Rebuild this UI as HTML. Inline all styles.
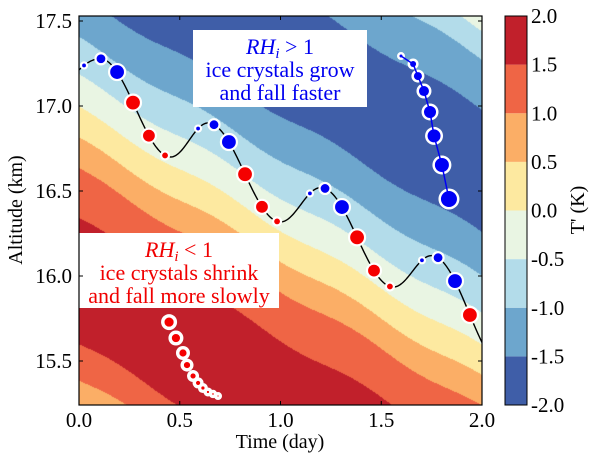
<!DOCTYPE html>
<html><head><meta charset="utf-8">
<style>
html,body{margin:0;padding:0;background:#fff;}
#wrap{position:relative;width:600px;height:454px;overflow:hidden;font-family:"Liberation Serif",serif;}
canvas{position:absolute;left:79px;top:16px;}
svg{position:absolute;left:0;top:0;font-family:"Liberation Serif",serif;}
</style></head>
<body>
<div id="wrap">
<canvas id="field" width="403" height="389"></canvas>
<svg id="svg" width="600" height="454"></svg>
</div>
<script>
// ---- data ----
const levels = [-2.0,-1.5,-1.0,-0.5,0.0,0.5,1.0,1.5,2.0];
const levelColors = ["#3f5ea8","#6da6cd","#b3dcea","#e9f5e3","#fde9a0","#fbae66","#ef6545","#c1202b"];
const phaseKnots = [14.6,15.0,15.39,15.6,16.0,16.33,16.62,16.8,16.98,17.17,17.39,17.65,18.1,18.38,18.68,18.85,18.97,19.3];
const tempKnots  = [0.3,0.7,1.0,1.5,1.95,1.5,1.0,0.5,0.0,-0.5,-1.0,-1.5,-1.95,-1.5,-1.0,-0.5,0.0,0.5];
const phaseSpeed = 0.7; // km/day
// trajectory extrema (peaks / troughs), including virtual ends
const extT = [-0.25,0.105,0.455,0.64,1.0,1.2,1.56,1.75,2.12];
const extZ = [16.95,17.278,16.70,16.90,16.318,16.52,15.935,16.12,15.45];
const dotT = [0.025,0.109,0.189,0.268,0.347,0.427,0.591,0.670,0.744,0.824,0.908,0.983,1.146,1.221,1.305,1.380,1.464,1.543,1.702,1.782,1.866,1.940];
const dotR = [3,5.5,8,8,7,4, 3,5.5,8,8,7,4, 3,5.5,8,8,7,4, 3,5.5,8,8];
const dotC = ["b","b","b","r","r","r","b","b","b","r","r","r","b","b","b","r","r","r","b","b","b","r"];
const blueT = [1.598,1.658,1.682,1.712,1.742,1.762,1.801,1.836];
const blueZ = [17.294,17.247,17.176,17.088,16.965,16.824,16.653,16.453];
const blueR = [1.5,3,4,5,6,6.5,7,8];
const redT = [0.447,0.481,0.516,0.536,0.566,0.591,0.615,0.640,0.665,0.690];
const redZ = [15.729,15.635,15.547,15.476,15.412,15.371,15.341,15.318,15.306,15.294];
const redR = [5,4.5,4,3.5,3,2.5,2,1.5,1.2,1];
const xTicks = [0.0,0.5,1.0,1.5,2.0];
const xTickLabels = ["0.0","0.5","1.0","1.5","2.0"];
const yTicks = [15.5,16.0,16.5,17.0,17.5];
const yTickLabels = ["15.5","16.0","16.5","17.0","17.5"];
const cbTickLabels = ["-2.0","-1.5","-1.0","-0.5","0.0","0.5","1.0","1.5","2.0"];

// ---- axes ----
const L=79,R=482,T=16,B=405;
const x = t => L + (t-0)/2.0*(R-L);
const zAt17_5 = 21, pxPerKm = 170;
const y = z => zAt17_5 + (17.5 - z)*pxPerKm;
const zFromY = py => 17.5 - (py - zAt17_5)/pxPerKm;
const tFromX = px => (px - L)/(R-L)*2.0;
const NS="http://www.w3.org/2000/svg";
const svg=document.getElementById('svg');
function el(tag,attrs,parent){const e=document.createElementNS(NS,tag);for(const k in attrs)e.setAttribute(k,attrs[k]);(parent||svg).appendChild(e);return e;}

// ---- field ----
function tempOf(phase){
  if(phase<=phaseKnots[0])return tempKnots[0];
  for(let i=1;i<phaseKnots.length;i++){
    if(phase<=phaseKnots[i]){const f=(phase-phaseKnots[i-1])/(phaseKnots[i]-phaseKnots[i-1]);return tempKnots[i-1]+f*(tempKnots[i]-tempKnots[i-1]);}
  }
  return tempKnots[tempKnots.length-1];
}
function hex(c){return [parseInt(c.slice(1,3),16),parseInt(c.slice(3,5),16),parseInt(c.slice(5,7),16)];}
const rgb=levelColors.map(hex);
(function(){
  const cv=document.getElementById('field');const ctx=cv.getContext('2d');
  const W=cv.width,H=cv.height;const img=ctx.createImageData(W,H);
  for(let j=0;j<H;j++){const z=zFromY(j+T+0.5);
    for(let i=0;i<W;i++){const t=tFromX(i+L+0.5);
      const ph=z+phaseSpeed*t+0.018*Math.sin(2*Math.PI*t/0.6+1.0*z);
      const v=tempOf(ph);
      let k=0;while(k<levelColors.length-1 && v>=levels[k+1])k++;
      const c=rgb[k];const p=(j*W+i)*4;img.data[p]=c[0];img.data[p+1]=c[1];img.data[p+2]=c[2];img.data[p+3]=255;}}
  ctx.putImageData(img,0,0);
})();

// clip
const defs=el('defs',{});const cp=el('clipPath',{id:'clip'},defs);el('rect',{x:L,y:T,width:R-L,height:B-T},cp);
const g=el('g',{'clip-path':'url(#clip)'});



// trajectory line: cosine interpolation between extrema
function lineZat(t){
  for(let i=0;i<extT.length-1;i++){
    if(t>=extT[i]&&t<=extT[i+1]){const f=(t-extT[i])/(extT[i+1]-extT[i]);const s=(1-Math.cos(Math.PI*f))/2;return extZ[i]+s*(extZ[i+1]-extZ[i]);}
  }
  return extZ[extZ.length-1];
}
(function(){
  let d='';
  for(let t=0;t<=2.0001;t+=0.005){d+=(d?' L':'M')+x(t).toFixed(2)+','+y(lineZat(t)).toFixed(2);}
  const pth=el('path',{d:d,fill:'none',stroke:'#000','stroke-width':1.4},g);
  
  
})();
dotT.forEach((t,i)=>{
  const c=el('circle',{cx:x(t),cy:y(lineZat(t)),r:dotR[i],fill:dotC[i]==='b'?'#0000f5':'#f50000',stroke:'#fff','stroke-width':2.2},g);
  
  
});
// blue chain
(function(){
  const pts=blueT.map((t,i)=>x(t)+','+y(blueZ[i])).join(' ');
  blueT.forEach((t,i)=>{const c=el('circle',{cx:x(t),cy:y(blueZ[i]),r:blueR[i]+2.5,fill:'#fff'},g);
    });
  const pl=el('polyline',{points:pts,fill:'none',stroke:'#0000f5','stroke-width':1.5},g);
  
  
  blueT.forEach((t,i)=>{const c=el('circle',{cx:x(t),cy:y(blueZ[i]),r:blueR[i],fill:'#0000f5'},g);
    });
})();
// red chain
(function(){
  redT.forEach((t,i)=>{const c=el('circle',{cx:x(t),cy:y(redZ[i]),r:redR[i]+3,fill:'#fff'},g);
    });
  redT.forEach((t,i)=>{const c=el('circle',{cx:x(t),cy:y(redZ[i]),r:redR[i],fill:'#f50000',stroke:'#fff','stroke-width':0.8},g);
    });
})();

// annotation boxes
function box(name,x0,y0,w,h,color,lines){
  const gg=el('g',{});
  el('rect',{x:x0,y:y0,width:w,height:h,fill:'#fff'},gg);
  lines.forEach((ln,i)=>{const tx=el('text',{x:x0+w/2,y:y0+24+i*23,'text-anchor':'middle',fill:color,'font-size':22},gg);
    if(i===0){tx.innerHTML=ln;}else tx.textContent=ln;});
}
box('rhi-above-one-annotation',193,30,174,77,'#0000f0',['<tspan font-style="italic">RH</tspan><tspan font-style="italic" font-size="15" dy="4">i</tspan><tspan dy="-4"> &gt; 1</tspan>','ice crystals grow','and fall faster']);
box('rhi-below-one-annotation',79,233,200,75,'#f00000',['<tspan font-style="italic">RH</tspan><tspan font-style="italic" font-size="15" dy="4">i</tspan><tspan dy="-4"> &lt; 1</tspan>','ice crystals shrink','and fall more slowly']);

// frame & ticks
const fr=el('rect',{x:L,y:T,width:R-L,height:B-T,fill:'none',stroke:'#000','stroke-width':1.2});

xTicks.forEach((t,i)=>{
  el('line',{x1:x(t),x2:x(t),y1:B,y2:B-4,stroke:'#000'});el('line',{x1:x(t),x2:x(t),y1:T,y2:T+4,stroke:'#000'});
  const tx=el('text',{x:x(t),y:427,'text-anchor':'middle','font-size':21});tx.textContent=xTickLabels[i];
  
});
yTicks.forEach((z,i)=>{
  el('line',{x1:L,x2:L+4,y1:y(z),y2:y(z),stroke:'#000'});el('line',{x1:R,x2:R-4,y1:y(z),y2:y(z),stroke:'#000'});
  const tx=el('text',{x:72,y:y(z)+7,'text-anchor':'end','font-size':21});tx.textContent=yTickLabels[i];
  
});
const xl=el('text',{x:280,y:448,'text-anchor':'middle','font-size':20});xl.textContent='Time (day)';

const yl=el('text',{x:0,y:0,'text-anchor':'middle','font-size':20,transform:'translate(22,210) rotate(-90)'});yl.textContent='Altitude (km)';


// colorbar
const CL=505,CR=527,CT=16,CB=405;
const cy=v=>CB-(v-levels[0])/(levels[levels.length-1]-levels[0])*(CB-CT);
levelColors.forEach((c,i)=>{
  const r=el('rect',{x:CL,y:cy(levels[i+1]),width:CR-CL,height:cy(levels[i])-cy(levels[i+1]),fill:c});
  
});
el('rect',{x:CL,y:CT,width:CR-CL,height:CB-CT,fill:'none',stroke:'#000','stroke-width':1});
levels.forEach((v,i)=>{
  const tx=el('text',{x:531,y:cy(v)+7,'font-size':21});tx.textContent=cbTickLabels[i];
  
});
const cl=el('text',{x:0,y:0,'text-anchor':'middle','font-size':20,transform:'translate(584,210) rotate(-90)'});cl.textContent="T' (K)";

</script>
</body></html>
